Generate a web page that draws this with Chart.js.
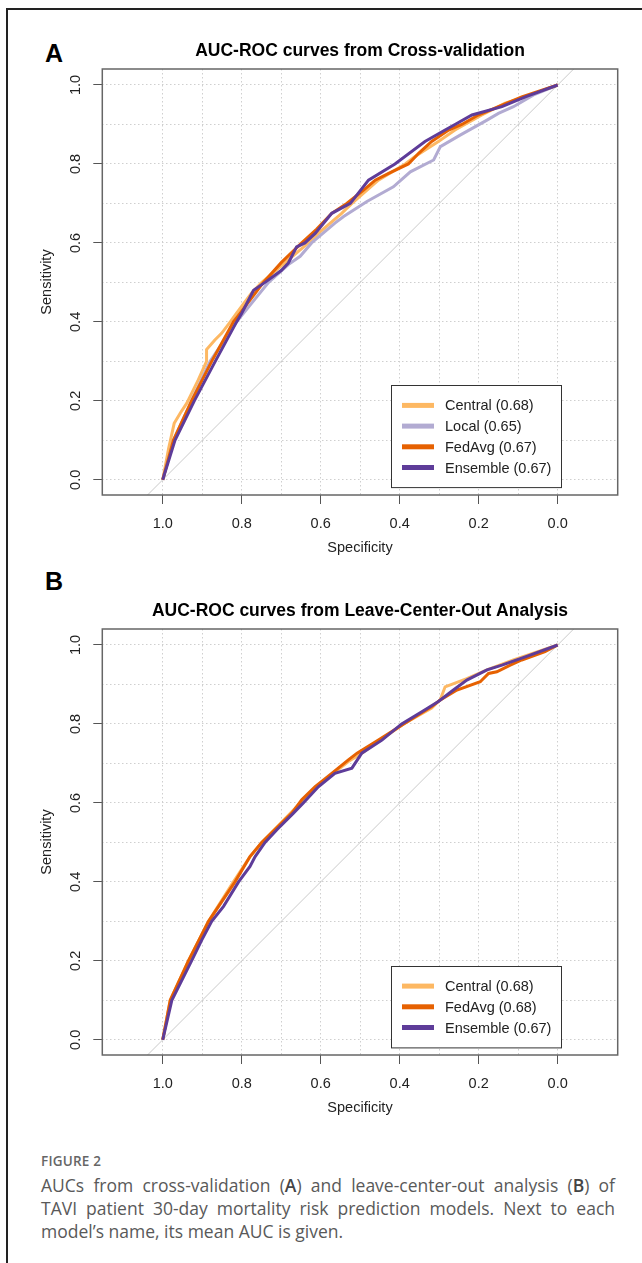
<!DOCTYPE html>
<html>
<head>
<meta charset="utf-8">
<script src="https://cdn.jsdelivr.net/npm/chart.js@4.4.1/dist/chart.umd.min.js"></script>
<style>
  html, body { margin: 0; padding: 0; background: #fff; }
  body { position: relative; width: 642px; height: 1263px; overflow: hidden; font-family: "Liberation Sans", Arial, sans-serif; }
  .frame { position: absolute; left: 6px; top: 8px; width: 700px; height: 1300px; border-left: 2px solid #222; border-top: 2px solid #222; }
  .panel { position: absolute; left: 0; width: 642px; height: 560px; }
  .tag { position: absolute; left: 45px; font: bold 25px/25px "Liberation Sans", Arial, sans-serif; color: #000; }
  .caption { position: absolute; left: 41px; top: 1152px; width: 574px; font-family: "Open Sans", sans-serif; color: #595959; }
  .caption .fig { font-size: 13.5px; line-height: 18px; font-weight: 600; color: #666; letter-spacing: 0.2px; }
  .caption .ln { font-size: 17.5px; line-height: 23px; white-space: nowrap; }
  .caption .first { margin-top: 4px; }
  .caption .j { text-align: justify; text-align-last: justify; white-space: normal; }
  .caption b { font-weight: 600; color: #444; }
</style>
</head>
<body>
<div class="frame"></div>
<div class="tag" style="top:41px">A</div>
<div class="tag" style="top:569px">B</div>
<div class="panel" style="top:0"><canvas id="rocCv" width="642" height="560"></canvas></div>
<div class="panel" style="top:560px"><canvas id="rocLco" width="642" height="560"></canvas></div>
<div class="caption">
  <div class="fig">FIGURE 2</div>
  <div class="ln j first">AUCs from cross-validation (<b>A</b>) and leave-center-out analysis (<b>B</b>) of</div>
  <div class="ln j">TAVI patient 30-day mortality risk prediction models. Next to each</div>
  <div class="ln">model’s name, its mean AUC is given.</div>
</div>
<script>
// grid every 0.1, labels every 0.2
const gridVals = [0, 0.1, 0.2, 0.3, 0.4, 0.5, 0.6, 0.7, 0.8, 0.9, 1.0];
const tickLabels = ['0.0', '', '0.2', '', '0.4', '', '0.6', '', '0.8', '', '1.0'];

// chance line (abline)
const chanceSpec = [1.2, -0.2];
const chanceSens = [-0.2, 1.2];

const seriesColors = { Central: '#FDB863', Local: '#B2ABD2', FedAvg: '#E66101', Ensemble: '#5E3C99' };

// A: cross-validation
const cvAuc = { Central: 0.68, Local: 0.65, FedAvg: 0.67, Ensemble: 0.67 };
const cvCentralSpec = [1.000, 0.985, 0.971, 0.955, 0.939, 0.910, 0.889, 0.889, 0.868, 0.851, 0.829, 0.813, 0.775, 0.749, 0.682, 0.631, 0.606, 0.547, 0.521, 0.454, 0.386, 0.361, 0.302, 0.260, 0.192, 0.133, 0.082, 0.000];
const cvCentralSens = [0.000, 0.080, 0.143, 0.170, 0.194, 0.253, 0.300, 0.330, 0.354, 0.371, 0.400, 0.422, 0.473, 0.500, 0.557, 0.600, 0.624, 0.675, 0.700, 0.759, 0.800, 0.819, 0.857, 0.886, 0.924, 0.954, 0.970, 1.000];
const cvLocalSpec = [1.000, 0.973, 0.927, 0.880, 0.813, 0.732, 0.682, 0.652, 0.623, 0.564, 0.542, 0.483, 0.416, 0.373, 0.314, 0.297, 0.247, 0.179, 0.150, 0.112, 0.061, 0.000];
const cvLocalSens = [0.000, 0.100, 0.200, 0.300, 0.400, 0.500, 0.545, 0.566, 0.600, 0.650, 0.667, 0.705, 0.742, 0.780, 0.810, 0.844, 0.873, 0.911, 0.928, 0.945, 0.975, 1.000];
const cvFedAvgSpec = [1.000, 0.973, 0.927, 0.876, 0.821, 0.804, 0.745, 0.700, 0.648, 0.610, 0.572, 0.534, 0.490, 0.462, 0.428, 0.378, 0.352, 0.319, 0.276, 0.243, 0.201, 0.150, 0.091, 0.000];
const cvFedAvgSens = [0.000, 0.100, 0.200, 0.300, 0.400, 0.422, 0.500, 0.550, 0.600, 0.635, 0.675, 0.700, 0.735, 0.759, 0.776, 0.800, 0.827, 0.857, 0.886, 0.900, 0.924, 0.945, 0.970, 1.000];
const cvEnsembleSpec = [1.000, 0.969, 0.920, 0.867, 0.813, 0.800, 0.770, 0.741, 0.700, 0.682, 0.661, 0.640, 0.614, 0.572, 0.525, 0.479, 0.412, 0.336, 0.285, 0.260, 0.217, 0.141, 0.082, 0.000];
const cvEnsembleSens = [0.000, 0.100, 0.200, 0.300, 0.400, 0.422, 0.480, 0.500, 0.530, 0.549, 0.590, 0.600, 0.624, 0.675, 0.700, 0.759, 0.800, 0.857, 0.886, 0.900, 0.924, 0.945, 0.970, 1.000];

// B: leave-center-out
const lcoAuc = { Central: 0.68, FedAvg: 0.68, Ensemble: 0.67 };
const lcoCentralSpec = [1.000, 0.981, 0.935, 0.884, 0.821, 0.779, 0.749, 0.677, 0.644, 0.610, 0.568, 0.530, 0.496, 0.450, 0.390, 0.319, 0.297, 0.285, 0.230, 0.179, 0.112, 0.000];
const lcoCentralSens = [0.000, 0.100, 0.200, 0.300, 0.400, 0.464, 0.500, 0.574, 0.608, 0.641, 0.675, 0.705, 0.726, 0.759, 0.800, 0.840, 0.862, 0.894, 0.915, 0.937, 0.962, 1.000];
const lcoFedAvgSpec = [1.000, 0.981, 0.935, 0.884, 0.817, 0.779, 0.749, 0.673, 0.648, 0.614, 0.572, 0.530, 0.508, 0.454, 0.390, 0.319, 0.297, 0.255, 0.196, 0.175, 0.154, 0.120, 0.091, 0.032, 0.000];
const lcoFedAvgSens = [0.000, 0.100, 0.200, 0.300, 0.400, 0.464, 0.500, 0.574, 0.608, 0.641, 0.675, 0.709, 0.726, 0.759, 0.800, 0.844, 0.861, 0.886, 0.907, 0.928, 0.932, 0.949, 0.962, 0.983, 1.000];
const lcoEnsembleSpec = [1.000, 0.977, 0.927, 0.901, 0.876, 0.846, 0.808, 0.779, 0.766, 0.741, 0.711, 0.669, 0.644, 0.606, 0.564, 0.521, 0.496, 0.445, 0.395, 0.344, 0.302, 0.264, 0.230, 0.179, 0.141, 0.082, 0.000];
const lcoEnsembleSens = [0.000, 0.100, 0.200, 0.253, 0.300, 0.338, 0.400, 0.439, 0.464, 0.500, 0.532, 0.574, 0.600, 0.641, 0.675, 0.688, 0.726, 0.759, 0.800, 0.831, 0.857, 0.886, 0.911, 0.937, 0.949, 0.970, 1.000];

const FONT = '"Liberation Sans", Arial, Helvetica, sans-serif';
Chart.defaults.font.family = FONT;

function toPoints(spec, sens) {
  return spec.map((s, i) => ({ x: s, y: sens[i] }));
}
function isMajor(v) {
  return Math.round(v * 10) % 2 === 0;
}

// plot frame, like R's box()
const framePlugin = {
  id: 'frame',
  afterDatasetsDraw(chart) {
    const { ctx, chartArea: a } = chart;
    ctx.save();
    ctx.strokeStyle = '#666';
    ctx.lineWidth = 1.5;
    ctx.strokeRect(a.left, a.top, a.right - a.left, a.bottom - a.top);
    ctx.restore();
  }
};

// legend in the bottom right corner of the plot
const insetLegend = {
  id: 'insetLegend',
  afterDatasetsDraw(chart) {
    const items = chart.data.datasets.filter(d => !d.isChance);
    const { ctx, chartArea: a } = chart;
    const rowH = 20.7, w = 170;
    const h = rowH * (items.length - 1) + 40;
    const left = a.right - 56.7 - w;
    const top = a.bottom - 7.5 - h;
    ctx.save();
    ctx.fillStyle = '#fff';
    ctx.fillRect(left, top, w, h);
    ctx.strokeStyle = '#333';
    ctx.lineWidth = 1;
    ctx.strokeRect(Math.round(left) + 0.5, Math.round(top) + 0.5, w, h);
    ctx.font = '14.5px ' + FONT;
    ctx.textBaseline = 'middle';
    items.forEach((d, i) => {
      const y = top + 20 + i * rowH;
      ctx.strokeStyle = d.borderColor;
      ctx.lineWidth = 5;
      ctx.beginPath();
      ctx.moveTo(left + 11, y);
      ctx.lineTo(left + 43, y);
      ctx.stroke();
      ctx.fillStyle = '#222';
      ctx.fillText(d.label, left + 54, y + 1);
    });
    ctx.restore();
  }
};

function makeRoc(canvasId, title, series) {
  const datasets = series.map((s, i) => ({
    label: s.name + ' (' + s.auc.toFixed(2) + ')',
    data: toPoints(s.spec, s.sens),
    borderColor: seriesColors[s.name],
    backgroundColor: seriesColors[s.name],
    borderWidth: 3,
    pointRadius: 0,
    tension: 0,
    fill: false,
    order: series.length - i
  }));
  datasets.push({
    label: 'chance',
    isChance: true,
    data: toPoints(chanceSpec, chanceSens),
    borderColor: '#cacaca',
    borderWidth: 1,
    pointRadius: 0,
    fill: false,
    order: 20
  });

  const grid = {
    color: '#cfcfcf',
    lineWidth: 1,
    tickLength: 9,
    tickWidth: 1,
    tickColor: ctx => (ctx.tick && isMajor(ctx.tick.value)) ? '#555' : 'rgba(0,0,0,0)'
  };
  const border = { display: false, dash: [1.5, 2.5] };

  return new Chart(document.getElementById(canvasId), {
    type: 'line',
    data: { datasets },
    options: {
      responsive: false,
      animation: false,
      events: [],
      layout: { padding: { left: 0, right: 24.3, top: 0, bottom: 0 } },
      scales: {
        x: {
          type: 'linear',
          reverse: true,
          min: -0.152,
          max: 1.153,
          afterBuildTicks: sc => { sc.ticks = gridVals.map(v => ({ value: v })); },
          afterFit: sc => { sc.height = 65; },
          grid: grid,
          border: border,
          ticks: {
            autoSkip: false, maxRotation: 0, minRotation: 0, padding: 11,
            color: '#222', font: { size: 14.5 },
            callback: (v, i) => tickLabels[i]
          },
          title: { display: true, text: 'Specificity', color: '#222', font: { size: 14.5 }, padding: { top: 0, bottom: 3.3 } }
        },
        y: {
          type: 'linear',
          min: -0.0385,
          max: 1.0405,
          afterBuildTicks: sc => { sc.ticks = gridVals.map(v => ({ value: v })); },
          afterFit: sc => { sc.width = 102.3; },
          grid: grid,
          border: border,
          ticks: {
            autoSkip: false, minRotation: 90, maxRotation: 90, crossAlign: 'center', padding: 7,
            color: '#222', font: { size: 14.5 },
            callback: (v, i) => tickLabels[i]
          },
          title: { display: true, text: 'Sensitivity', color: '#222', font: { size: 14.5 }, padding: { top: 38.3, bottom: 0 } }
        }
      },
      plugins: {
        legend: { display: false },
        tooltip: { enabled: false },
        title: {
          display: true,
          text: title,
          fullSize: false,
          color: '#000',
          font: { size: 17.5, weight: 'bold' },
          padding: { top: 40.5, bottom: 7.5 }
        }
      }
    },
    plugins: [framePlugin, insetLegend]
  });
}

makeRoc('rocCv', 'AUC-ROC curves from Cross-validation', [
  { name: 'Central', auc: cvAuc.Central, spec: cvCentralSpec, sens: cvCentralSens },
  { name: 'Local', auc: cvAuc.Local, spec: cvLocalSpec, sens: cvLocalSens },
  { name: 'FedAvg', auc: cvAuc.FedAvg, spec: cvFedAvgSpec, sens: cvFedAvgSens },
  { name: 'Ensemble', auc: cvAuc.Ensemble, spec: cvEnsembleSpec, sens: cvEnsembleSens }
]);

makeRoc('rocLco', 'AUC-ROC curves from Leave-Center-Out Analysis', [
  { name: 'Central', auc: lcoAuc.Central, spec: lcoCentralSpec, sens: lcoCentralSens },
  { name: 'FedAvg', auc: lcoAuc.FedAvg, spec: lcoFedAvgSpec, sens: lcoFedAvgSens },
  { name: 'Ensemble', auc: lcoAuc.Ensemble, spec: lcoEnsembleSpec, sens: lcoEnsembleSens }
]);
</script>
</body>
</html>
